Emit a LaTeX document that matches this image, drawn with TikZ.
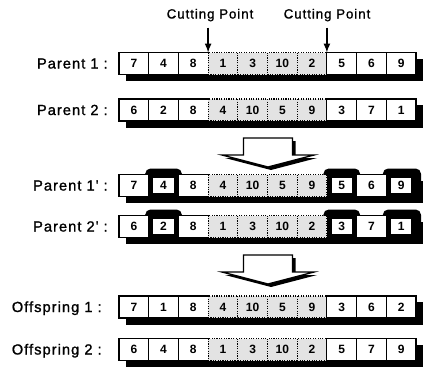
\documentclass[tikz,border=0pt]{standalone}
\usepackage{fontspec}
\setmainfont{Liberation Sans}
\newfontfamily\lblfont[LetterSpace=7,FakeBold=1.2]{Liberation Sans}
\usepackage{tikz}

\begin{document}
\begin{tikzpicture}[x=0.75pt, y=-0.75pt,
    every node/.style={inner sep=0pt},
    cell/.style={draw, fill=white, line width=0.8pt, minimum width=22.3pt,
        minimum height=16.5pt, font=\bfseries\fontsize{9}{9}\selectfont},
    cutcell/.style={cell, fill=gray!22, densely dotted},
    hl/.style={cell, minimum width=16pt, minimum height=12.5pt},
    rowlabel/.style={anchor=base east, font=\lblfont\fontsize{11}{13}\selectfont},
    cuttext/.style={anchor=base, font=\lblfont\fontsize{10}{12}\selectfont},
    shadow/.style={fill=black},
    bigarrow/.style={fill=white, draw=black, line width=1pt}
]
\useasboundingbox (0,0) rectangle (423,372);

% drop shadows under the rows
\fill[shadow] (126,58.5) rectangle (423,81);
\fill[shadow] (126,105) rectangle (423,127.5);
\fill[shadow] (126,180.5) rectangle (423,203);
\fill[shadow] (126,221.5) rectangle (423,244);
\fill[shadow] (126,302) rectangle (423,324.5);
\fill[shadow] (126,344.5) rectangle (423,367);

% black backdrops of the swapped genes
\fill[shadow, rounded corners=4pt] (145.2,168.5) rectangle (181.9,201.5);
\fill[shadow, rounded corners=4pt] (323.4,168.5) rectangle (360.1,201.5);
\fill[shadow, rounded corners=4pt] (382.8,168.5) rectangle (421,201.5);
\fill[shadow, rounded corners=4pt] (145.2,209.5) rectangle (181.9,242.5);
\fill[shadow, rounded corners=4pt] (323.4,209.5) rectangle (360.1,242.5);
\fill[shadow, rounded corners=4pt] (382.8,209.5) rectangle (421,242.5);

% cutting points
\node[cuttext] (cut1) at (210,18.5) {Cutting Point};
\node[cuttext] (cut2) at (327,18.5) {Cutting Point};
\coordinate (cp1) at (208.1,52.5);
\coordinate (cp2) at (326.9,52.5);
\draw[-latex, line width=1.3pt, shorten <=4.5pt] (cut1.south -| cp1) -- (cp1);
\draw[-latex, line width=1.3pt, shorten <=4.5pt] (cut2.south -| cp2) -- (cp2);

% row labels
\node[rowlabel] (lp1) at (108,68.5) {Parent 1 :};
\node[rowlabel] (lp2) at (108,115) {Parent 2 :};
\node[rowlabel] (lq1) at (108,190.5) {Parent 1' :};
\node[rowlabel] (lq2) at (108,231.5) {Parent 2' :};
\node[rowlabel] (lo1) at (102,312) {Offspring 1 :};
\node[rowlabel] (lo2) at (102,354.5) {Offspring 2 :};

% chromosomes
\foreach \v/\s [count=\i] in {7/cell,4/cell,8/cell,1/cutcell,3/cutcell,10/cutcell,2/cutcell,5/cell,6/cell,9/cell}
    \node[\s] (a\i) at ({119+(\i-0.5)*29.7},63.5) {\v};
\foreach \v/\s [count=\i] in {6/cell,2/cell,8/cell,4/cutcell,10/cutcell,5/cutcell,9/cutcell,3/cell,7/cell,1/cell}
    \node[\s] (b\i) at ({119+(\i-0.5)*29.7},110) {\v};
\foreach \v/\s [count=\i] in {7/cell,4/hl,8/cell,4/cutcell,10/cutcell,5/cutcell,9/cutcell,5/hl,6/cell,9/hl}
    \node[\s] (c\i) at ({119+(\i-0.5)*29.7},185.5) {\v};
\foreach \v/\s [count=\i] in {6/cell,2/hl,8/cell,1/cutcell,3/cutcell,10/cutcell,2/cutcell,3/hl,7/cell,1/hl}
    \node[\s] (d\i) at ({119+(\i-0.5)*29.7},226.5) {\v};
\foreach \v/\s [count=\i] in {7/cell,1/cell,8/cell,4/cutcell,10/cutcell,5/cutcell,9/cutcell,3/cell,6/cell,2/cell}
    \node[\s] (e\i) at ({119+(\i-0.5)*29.7},307) {\v};
\foreach \v/\s [count=\i] in {6/cell,4/cell,8/cell,1/cutcell,3/cutcell,10/cutcell,2/cutcell,5/cell,7/cell,9/cell}
    \node[\s] (f\i) at ({119+(\i-0.5)*29.7},349.5) {\v};

% block arrows
\begin{scope}[shift={(268,138)}]
\fill[shadow, shift={(3,3)}] (-24.5,0) -- (24.5,0) -- (24.5,17) -- (46,17) -- (0,29) -- (-46,17) -- (-24.5,17) -- cycle;
\draw[bigarrow] (-24.5,0) -- (24.5,0) -- (24.5,17) -- (46,17) -- (0,29) -- (-46,17) -- (-24.5,17) -- cycle;
\end{scope}
\begin{scope}[shift={(268,255)}]
\fill[shadow, shift={(3,3)}] (-24.5,0) -- (24.5,0) -- (24.5,17) -- (46,17) -- (0,29) -- (-46,17) -- (-24.5,17) -- cycle;
\draw[bigarrow] (-24.5,0) -- (24.5,0) -- (24.5,17) -- (46,17) -- (0,29) -- (-46,17) -- (-24.5,17) -- cycle;
\end{scope}
\end{tikzpicture}
\end{document}
